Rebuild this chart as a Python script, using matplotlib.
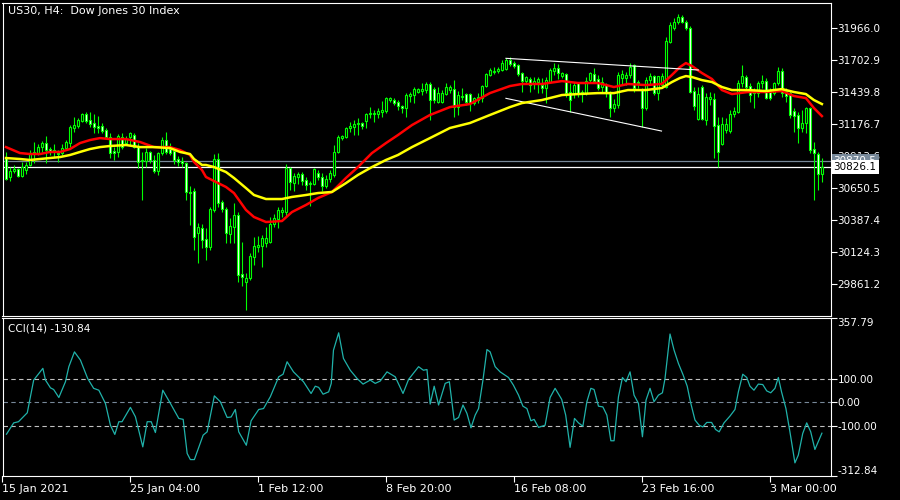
import numpy as np
import matplotlib
matplotlib.use("Agg")
import matplotlib.pyplot as plt
import matplotlib.transforms as mtransforms

# US30 H4 candles (index points), bar 0 = 15 Jan 2021
opens = [30897, 30741, 30791, 30807, 30750, 30799, 30840, 30930, 30938, 30987,
         31020, 30971, 30963, 30938, 30938, 30979, 31020, 31144, 31160, 31201,
         31259, 31210, 31185, 31160, 31160, 31127, 31069, 30955, 30947, 31069,
         31020, 31069, 31086, 30987, 30873, 30873, 30947, 30881, 30791, 30938,
         31045, 30971, 30955, 30889, 30873, 30856, 30618, 30626, 30280, 30321,
         30231, 30165, 30470, 30889, 30536, 30478, 30272, 30329, 30428, 29943,
         29878, 29910, 30083, 30165, 30173, 30198, 30206, 30354, 30395, 30453,
         30453, 30815, 30691, 30741, 30766, 30716, 30683, 30683, 30774, 30741,
         30667, 30725, 30758, 30947, 31061, 31069, 31144, 31152, 31177, 31185,
         31201, 31259, 31259, 31259, 31276, 31284, 31374, 31374, 31358, 31325,
         31308, 31407, 31415, 31440, 31448, 31456, 31506, 31464, 31358, 31358,
         31423, 31456, 31464, 31316, 31399, 31423, 31423, 31349, 31374, 31390,
         31489, 31580, 31604, 31612, 31621, 31629, 31703, 31678, 31662, 31596,
         31530, 31547, 31506, 31522, 31497, 31473, 31522, 31612, 31637, 31571,
         31588, 31440, 31423, 31514, 31423, 31431, 31538, 31588, 31547, 31481,
         31497, 31431, 31308, 31333, 31555, 31555, 31580, 31662, 31522, 31456,
         31308, 31538, 31571, 31431, 31497, 31481, 31851, 31966, 32015, 32057,
         32015, 31966, 31448, 31218, 31481, 31210, 31382, 31382, 31168, 31012,
         31127, 31119, 31259, 31276, 31514, 31563, 31489, 31448, 31431, 31514,
         31530, 31440, 31431, 31514, 31612, 31448, 31431, 31284, 31251, 31144,
         31185, 31308, 30971, 30930, 30766]
highs = [30947, 30823, 30840, 30815, 30865, 30865, 30963, 31029, 31012, 31037,
         31078, 30987, 31012, 30963, 31012, 31045, 31168, 31234, 31226, 31267,
         31276, 31276, 31259, 31243, 31185, 31144, 31102, 30987, 31094, 31102,
         31078, 31111, 31102, 31020, 30947, 30979, 30955, 30922, 30947, 31069,
         31111, 31020, 30979, 30914, 30905, 30865, 30667, 30650, 30362, 30354,
         30321, 30494, 30930, 30938, 30552, 30494, 30404, 30527, 30453, 30206,
         29951, 30116, 30247, 30256, 30264, 30329, 30412, 30436, 30494, 30494,
         30848, 30823, 30774, 30782, 30782, 30741, 30708, 30815, 30799, 30774,
         30758, 30799, 31004, 31086, 31086, 31152, 31193, 31210, 31226, 31193,
         31267, 31316, 31292, 31308, 31366, 31399, 31399, 31390, 31374, 31333,
         31431, 31440, 31481, 31473, 31514, 31522, 31522, 31481, 31481, 31456,
         31514, 31497, 31538, 31448, 31473, 31431, 31431, 31399, 31431, 31497,
         31596, 31637, 31645, 31645, 31703, 31719, 31728, 31695, 31670, 31604,
         31571, 31563, 31563, 31563, 31555, 31563, 31637, 31678, 31670, 31604,
         31596, 31514, 31522, 31522, 31456, 31563, 31604, 31637, 31580, 31563,
         31514, 31448, 31382, 31604, 31621, 31604, 31678, 31670, 31538, 31473,
         31563, 31596, 31580, 31571, 31596, 31892, 32015, 32048, 32081, 32073,
         32032, 31982, 31481, 31481, 31497, 31431, 31440, 31431, 31234, 31234,
         31226, 31292, 31316, 31538, 31662, 31580, 31514, 31473, 31530, 31580,
         31555, 31473, 31522, 31645, 31637, 31473, 31456, 31308, 31276, 31292,
         31316, 31316, 31029, 30947, 30897]
lows = [30716, 30708, 30774, 30741, 30741, 30766, 30832, 30856, 30922, 30947,
        30856, 30922, 30905, 30865, 30922, 30963, 30987, 31111, 31144, 31193,
        31185, 31152, 31102, 31102, 31102, 31061, 30897, 30881, 30905, 30971,
        31004, 31004, 30979, 30815, 30552, 30823, 30856, 30774, 30758, 30922,
        30930, 30922, 30848, 30832, 30823, 30552, 30346, 30141, 30034, 30157,
        30058, 30141, 30453, 30494, 30453, 30198, 30198, 30198, 29878, 29845,
        29647, 29894, 30017, 30124, 30001, 30165, 30198, 30329, 30321, 30412,
        30412, 30634, 30626, 30683, 30675, 30634, 30503, 30675, 30716, 30626,
        30650, 30700, 30741, 30938, 31045, 31061, 31111, 31086, 31086, 31135,
        31144, 31226, 31193, 31226, 31234, 31267, 31358, 31333, 31292, 31267,
        31234, 31358, 31349, 31431, 31415, 31431, 31210, 31349, 31349, 31349,
        31415, 31431, 31234, 31251, 31374, 31333, 31284, 31333, 31349, 31358,
        31481, 31571, 31588, 31596, 31612, 31621, 31654, 31637, 31571, 31440,
        31514, 31440, 31464, 31431, 31431, 31349, 31514, 31580, 31547, 31555,
        31399, 31276, 31390, 31399, 31358, 31415, 31522, 31514, 31456, 31431,
        31399, 31234, 31276, 31308, 31497, 31497, 31555, 31440, 31473, 31152,
        31292, 31497, 31415, 31374, 31473, 31473, 31842, 31950, 31999, 32007,
        31950, 31431, 31292, 31210, 31210, 31168, 31333, 30897, 30823, 31004,
        31102, 31102, 31234, 31267, 31481, 31456, 31358, 31308, 31399, 31473,
        31382, 31374, 31415, 31497, 31399, 31358, 31226, 31111, 31020, 31111,
        31102, 30938, 30552, 30634, 30700]
closes = [30725, 30791, 30807, 30750, 30823, 30840, 30938, 30947, 30987, 31020,
          30963, 30947, 30947, 30930, 30979, 31029, 31152, 31168, 31210, 31259,
          31201, 31177, 31152, 31144, 31119, 31069, 30938, 30938, 31078, 30987,
          31053, 31102, 30987, 30865, 30881, 30947, 30881, 30791, 30938, 31045,
          30947, 30938, 30881, 30865, 30856, 30618, 30609, 30247, 30329, 30223,
          30165, 30478, 30889, 30527, 30478, 30280, 30338, 30428, 29935, 29919,
          29910, 30091, 30173, 30182, 30239, 30239, 30354, 30404, 30470, 30470,
          30815, 30700, 30750, 30766, 30708, 30675, 30691, 30807, 30741, 30667,
          30725, 30774, 30947, 31069, 31078, 31144, 31160, 31177, 31185, 31160,
          31259, 31267, 31267, 31284, 31292, 31390, 31390, 31349, 31325, 31308,
          31415, 31423, 31464, 31464, 31464, 31506, 31374, 31374, 31431, 31431,
          31481, 31481, 31316, 31415, 31407, 31358, 31349, 31390, 31399, 31489,
          31588, 31621, 31612, 31629, 31678, 31703, 31670, 31654, 31588, 31530,
          31563, 31497, 31530, 31547, 31473, 31538, 31621, 31637, 31596, 31596,
          31431, 31374, 31497, 31431, 31440, 31530, 31596, 31530, 31473, 31522,
          31431, 31308, 31341, 31580, 31588, 31580, 31645, 31473, 31514, 31308,
          31538, 31571, 31431, 31571, 31571, 31859, 31990, 32015, 32057, 32015,
          31966, 31440, 31325, 31423, 31218, 31399, 31399, 31160, 30947, 31177,
          31177, 31259, 31284, 31514, 31571, 31481, 31415, 31431, 31514, 31530,
          31390, 31390, 31514, 31612, 31431, 31407, 31251, 31243, 31144, 31185,
          31308, 30963, 30938, 30766, 30826.1]

# moving averages (red = fast, yellow = slow), sampled along the line
red_bar = [0, 3.5, 6, 8.5, 11, 13.5, 16, 18.5, 21, 23.5, 26, 30, 33.5, 37, 41,
           43.5, 46, 47, 49, 50, 52, 55, 57, 60, 62, 65, 69, 71.5, 75, 78, 81.5,
           85, 88, 91.5, 95, 98, 101.5, 106, 111, 116, 121, 126, 129, 134, 139,
           143, 148, 152, 155.5, 160, 164, 166.5, 168.5, 170, 171.5, 174, 176.5,
           179, 181.5, 185.5, 190, 194, 197, 200, 202, 204]
red_ma = [30987, 30938, 30930, 30930, 30947, 30947, 30971, 31020, 31045, 31061,
          31053, 31053, 31029, 30987, 30987, 30963, 30922, 30865, 30799, 30741,
          30708, 30659, 30609, 30470, 30412, 30371, 30379, 30453, 30511, 30568,
          30618, 30733, 30823, 30938, 31020, 31086, 31168, 31251, 31316, 31341,
          31431, 31489, 31506, 31506, 31530, 31514, 31514, 31481, 31506, 31497,
          31506, 31580, 31645, 31678, 31654, 31596, 31547, 31456, 31423, 31440,
          31440, 31448, 31407, 31390, 31308, 31242]
yellow_bar = red_bar
yellow_ma = [30897, 30889, 30881, 30889, 30897, 30905, 30922, 30947, 30971, 30987,
             30996, 31004, 30987, 30987, 30979, 30947, 30930, 30889, 30840, 30840,
             30823, 30782, 30733, 30650, 30593, 30560, 30560, 30577, 30593, 30609,
             30618, 30691, 30758, 30823, 30881, 30922, 30987, 31061, 31144, 31185,
             31251, 31316, 31349, 31374, 31415, 31423, 31431, 31431, 31456, 31456,
             31473, 31522, 31555, 31571, 31563, 31538, 31522, 31481, 31456, 31456,
             31448, 31464, 31440, 31423, 31374, 31341]

# CCI(14)
cci_bar = [0, 1.8, 3, 5.2, 6.8, 9.1, 9.75, 11, 11.8, 13.1, 14.75, 15.6, 17, 18.5,
           20.3, 21.8, 23.1, 24.75, 26, 27.1, 28.1, 28.9, 31, 32.25, 34.1, 35.2,
           36.2, 37.25, 39.1, 41, 43.1, 44.2, 45.2, 46, 47, 49.2, 50.2, 52, 53.5,
           55.2, 56.2, 57.25, 58.1, 60, 61.2, 63.1, 64.3, 66, 68.1, 69.2, 70.2,
           71.8, 74.3, 76.2, 77.25, 78.1, 79.2, 80.6, 81.25, 81.8, 83.1, 84.3, 86,
           87.7, 89.2, 91, 92.25, 93.5, 95.2, 97.25, 99.2, 100.6, 103.1, 104.3,
           105.2, 106, 107, 108.1, 109.75, 110.8, 112, 113.1, 114.2, 115.2, 116.2,
           117.25, 118.1, 119.2, 120.2, 121, 122.25, 123.5, 125.6, 126.8, 128.1,
           129.2, 130.2, 131.2, 132, 133.1, 134.75, 136, 137.25, 138.9, 139.9, 141,
           142.1, 143.1, 144.2, 145.2, 146.2, 147, 148.1, 149.2, 150.2, 151.2, 152,
           153.1, 154.1, 155, 156, 157, 158.1, 159.1, 160, 161, 162, 163.1, 164.1,
           164.75, 166, 167, 168.1, 169.3, 170.3, 171.2, 172.25, 173.3, 174.2,
           175.2, 176.4, 177.4, 178.3, 179.5, 181, 182.25, 183.1, 184.2, 185.2,
           186, 187, 188.1, 189.2, 190.2, 191.2, 192.25, 193.1, 193.9, 195, 196,
           197.25, 198.1, 199.2, 200.2, 201.2, 202.25, 204]
cci_val = [-135, -87, -82, -44, 95, 145, 95, 62, 55, 21, 88, 152, 215, 180,
           102, 60, 52, -4, -97, -136, -82, -82, -21, -61, -189, -82,
           -82, -128, 52, -4, -68, -72, -217, -243, -243, -139, -125, 28, 3,
           -64, -62, -30, -125, -182, -78, -30, -26, 24, 109, 120, 173,
           130, 88, 38, 69, 64, 35, 45, 81, 222, 296, 187, 137,
           102, 78, 95, 81, 91, 130, 109, 38, 98, 152, 137,
           140, -7, 69, -11, 81, 88, -75, -64, -11, -47, -108,
           -54, -26, 95, 225, 215, 152, 130, 106, 74, 31,
           -16, -26, -78, -72, -106, -97, 21, 60, 13, -54, -191,
           -68, -87, -101, 3, 60, 55, -16, -19, -54, -163, -163,
           24, 106, 88, 130, 31, -4, -146, 10, 60, 3, 31, 41,
           102, 291, 223, 166, 116, 69, -4, -75, -97, -104,
           -85, -85, -115, -125, -87, -58, -30, 45, 120, 106,
           69, 52, 78, 76, 49, 41, 60, 106, 45, -26, -125,
           -257, -224, -132, -87, -125, -200, -130.84]

# hand-drawn trend lines on the chart
trend_upper_bar = [125, 173.1]
trend_upper = [31717, 31621]
trend_lower_bar = [125, 163.9]
trend_lower = [31388, 31119]

bid = 30826.1
ask = 30870.5
price_ticks = [31966.0, 31702.9, 31439.8, 31176.7, 30913.6, 30650.5, 30387.4, 30124.3, 29861.2]
cci_ticks = [357.79, 100.0, 0.0, -100.0, -312.84]
date_bars = [-1, 31, 63, 95, 127, 159, 191]
date_labels = ['15 Jan 2021', '25 Jan 04:00', '1 Feb 12:00', '8 Feb 20:00',
               '16 Feb 08:00', '23 Feb 16:00', '3 Mar 00:00']

GREEN = '#00ff00'
W, H = 900, 500
FS = 7.5

fig = plt.figure(figsize=(9, 5), dpi=100, facecolor='black')
ax = fig.add_axes([2.5 / W, (H - 316) / H, 828.2 / W, 313.5 / H])
ax2 = fig.add_axes([2.5 / W, (H - 476) / H, 828.2 / W, 157.7 / H])

for a in (ax, ax2):
    a.set_facecolor('black')
    for s in a.spines.values():
        s.set_color('white')
        s.set_linewidth(0.8)
    a.set_xlim(-0.875, 206.2)
    a.yaxis.tick_right()
    a.tick_params(axis='y', colors='white', length=4, width=0.8, pad=1, labelsize=FS)

# candles: bull = black body, bear = white body, lime outline and wick
x = np.arange(len(closes))
o = np.array(opens, float)
c = np.array(closes, float)
bull = c >= o
bottom = np.minimum(o, c)
height = np.maximum(np.abs(c - o), 3)
ax.vlines(x, lows, highs, color=GREEN, lw=0.8, zorder=2)
ax.bar(x[bull], height[bull], bottom=bottom[bull], width=0.6, color='black',
       edgecolor=GREEN, linewidth=0.8, zorder=3)
ax.bar(x[~bull], height[~bull], bottom=bottom[~bull], width=0.6, color='white',
       edgecolor=GREEN, linewidth=0.8, zorder=3)

ax.plot(red_bar, red_ma, color='#ff0000', lw=1.8, zorder=4)
ax.plot(yellow_bar, yellow_ma, color='#ffff00', lw=1.8, zorder=5)
ax.plot(trend_upper_bar, trend_upper, color='white', lw=0.8, zorder=4)
ax.plot(trend_lower_bar, trend_lower, color='white', lw=0.8, zorder=4)

ax.axhline(ask, color='#778899', lw=0.9, zorder=1)
ax.axhline(bid, color='white', lw=0.9, zorder=1)

ax.set_ylim(29598, 32176)
ax.set_xticks([])
ax.set_yticks(price_ticks)
ax.set_yticklabels(['%.1f' % v for v in price_ticks])

# price tags on the right edge (ask tag sits under the bid tag)
tr = mtransforms.blended_transform_factory(ax.transAxes, ax.transData)
ax.text(1.0035, ask, '%.1f' % ask, transform=tr, va='center', ha='left', fontsize=FS,
        color='white', zorder=6, clip_on=False,
        bbox=dict(boxstyle='square,pad=0.2', fc='#778899', ec='none'))
ax.text(1.0035, bid, '%.1f' % bid, transform=tr, va='center', ha='left', fontsize=FS,
        color='black', zorder=7, clip_on=False,
        bbox=dict(boxstyle='square,pad=0.2', fc='white', ec='none'))

ax.text(6 / 828.2, 1 - 3 / 313.5, 'US30, H4:  Dow Jones 30 Index', transform=ax.transAxes,
        color='white', fontsize=8, va='top', ha='left')

# CCI panel
ax2.plot(cci_bar, cci_val, color='#20b2aa', lw=0.9, zorder=3)
for lvl, col in ((100, '#c0c0c0'), (0, '#778899'), (-100, '#c0c0c0')):
    ax2.axhline(lvl, color=col, lw=0.8, ls=(0, (4, 3)), zorder=1)
ax2.set_ylim(-312.84, 357.79)
ax2.set_yticks(cci_ticks)
labs = ax2.set_yticklabels(['%.2f' % v for v in cci_ticks])
labs[0].set_va('top')
labs[-1].set_va('bottom')
ax2.set_xticks(date_bars)
ax2.set_xticklabels(date_labels, ha='left')
ax2.tick_params(axis='x', colors='white', length=4, width=0.8, pad=2, labelsize=8)
ax2.text(5 / 828.2, 1 - 5 / 157.7, 'CCI(14) %.2f' % cci_val[-1], transform=ax2.transAxes,
         color='white', fontsize=FS, va='top', ha='left')

fig.savefig('out.png', dpi=100, facecolor='black')
